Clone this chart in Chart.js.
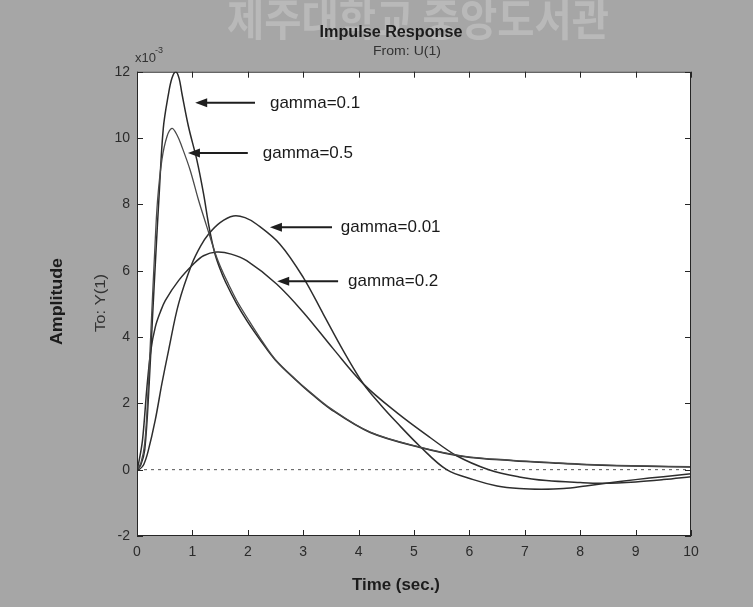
<!DOCTYPE html>
<html><head><meta charset="utf-8">
<script src="https://cdn.jsdelivr.net/npm/chart.js@4/dist/chart.umd.min.js"></script>
<style>html,body{margin:0;padding:0;background:#a6a6a6;overflow:hidden}#wrap{width:753px;height:607px}</style>
</head><body><div id="wrap"><canvas id="c" width="753" height="607"></canvas></div>
<script>
// ---- data (time in sec, amplitude in units of 1e-3) ----
const t01 = [0, 0.07, 0.14, 0.22, 0.28, 0.34, 0.40, 0.475, 0.565, 0.63, 0.70, 0.76, 0.81, 0.93, 1.08, 1.20, 1.30, 1.40, 1.50, 1.60, 1.80, 2.00, 2.25, 2.50, 2.88, 3.07, 3.50, 4.21, 5.11, 5.89, 6.79, 7.51, 8.12, 9.20, 10];
const v01 = [0, 0.15, 0.6, 2.6, 4.6, 6.5, 8.3, 10.3, 11.3, 11.8, 12.0, 11.8, 11.35, 10.34, 9.34, 8.33, 7.33, 6.55, 6.05, 5.65, 5.0, 4.45, 3.85, 3.3, 2.68, 2.40, 1.82, 1.12, 0.67, 0.40, 0.27, 0.20, 0.15, 0.10, 0.08];

const t05 = [0, 0.07, 0.14, 0.20, 0.26, 0.32, 0.37, 0.45, 0.54, 0.63, 0.72, 0.81, 0.96, 1.11, 1.26, 1.35, 1.45, 1.55, 1.65, 1.80, 2.00, 2.25, 2.50, 2.88, 3.07, 3.50, 4.21, 5.11, 5.89, 6.79, 7.51, 8.12, 9.20, 10];
const v05 = [0, 0.2, 0.8, 2.4, 4.5, 6.6, 8.1, 9.35, 10.04, 10.29, 10.1, 9.74, 9.03, 8.13, 7.33, 6.85, 6.35, 5.95, 5.6, 5.1, 4.55, 3.9, 3.32, 2.7, 2.42, 1.84, 1.13, 0.68, 0.41, 0.28, 0.21, 0.16, 0.11, 0.09];

const t001 = [0, 0.05, 0.12, 0.2, 0.33, 0.45, 0.57, 0.75, 0.99, 1.15, 1.29, 1.5, 1.74, 1.95, 2.16, 2.58, 3.0, 3.36, 3.72, 4.09, 4.40, 4.69, 5.11, 5.59, 6.07, 6.5, 6.9, 7.3, 7.7, 8.1, 8.5, 9.0, 9.5, 10];
const v001 = [0, 0.02, 0.15, 0.55, 1.5, 2.6, 3.6, 5.0, 6.2, 6.75, 7.1, 7.45, 7.65, 7.6, 7.4, 6.8, 5.8, 4.7, 3.6, 2.58, 1.95, 1.42, 0.70, 0, -0.30, -0.49, -0.57, -0.59, -0.57, -0.49, -0.40, -0.30, -0.21, -0.12];

const t02 = [0, 0.03, 0.1, 0.18, 0.25, 0.33, 0.42, 0.51, 0.75, 1.02, 1.2, 1.44, 1.7, 1.98, 2.52, 3.0, 3.54, 4.09, 4.69, 5.29, 5.77, 6.35, 6.9, 7.39, 8.0, 8.4, 9.0, 9.5, 10];
const v02 = [0, 0.2, 0.9, 2.5, 3.6, 4.3, 4.75, 5.1, 5.7, 6.2, 6.45, 6.56, 6.5, 6.3, 5.6, 4.75, 3.65, 2.58, 1.72, 0.97, 0.42, 0, -0.22, -0.33, -0.39, -0.41, -0.37, -0.30, -0.21];

const zeroT = [0, 10];
const zeroV = [0, 0];

const xTicks = [0, 1, 2, 3, 4, 5, 6, 7, 8, 9, 10];
const yTicks = [-2, 0, 2, 4, 6, 8, 10, 12];

// annotations (label, arrow head t, arrow tail t, level, text start t)
const annLabels = ['gamma=0.1', 'gamma=0.5', 'gamma=0.01', 'gamma=0.2'];
const annHeadT  = [1.05, 0.92, 2.40, 2.53];
const annTailT  = [2.13, 2.00, 3.52, 3.63];
const annLevel  = [11.06, 9.55, 7.31, 5.68];
const annTextT  = [2.40, 2.27, 3.68, 3.81];

const pts = (t, v) => t.map((x, i) => ({x: x, y: v[i]}));

function fitText(ctx, text, x, y, targetW, align, rot) {
  const w = ctx.measureText(text).width;
  let s = targetW / w; if (s > 1.25) s = 1.25; if (s < 0.75) s = 0.75;
  ctx.save();
  ctx.translate(x, y);
  if (rot) ctx.rotate(rot);
  ctx.scale(s, 1);
  ctx.textAlign = align || 'center';
  ctx.fillText(text, 0, 0);
  ctx.restore();
}

const FONT = '"Liberation Sans", Arial, sans-serif';

const decor = {
  id: 'decor',
  beforeDraw(chart) {
    const ctx = chart.ctx, a = chart.chartArea;
    ctx.save();
    ctx.fillStyle = '#a6a6a6';
    ctx.fillRect(0, 0, chart.width, chart.height);
    // faint library watermark
    ctx.fillStyle = 'rgba(200,200,200,0.55)';
    ctx.textBaseline = 'alphabetic';
    ctx.font = 'bold 44px "Noto Sans CJK KR", sans-serif';
    fitText(ctx, '제주대학교 중앙도서관', 418, 36, 382, 'center');
    ctx.fillStyle = '#ffffff';
    ctx.fillRect(a.left, a.top, a.right - a.left, a.bottom - a.top);
    ctx.restore();
  },
  afterDatasetsDraw(chart) {
    const ctx = chart.ctx, a = chart.chartArea;
    const xs = chart.scales.x, ys = chart.scales.y;
    ctx.save();
    ctx.strokeStyle = '#262626';
    ctx.lineWidth = 1;
    ctx.strokeRect(a.left + 0.5, a.top + 0.5, a.right - a.left - 1, a.bottom - a.top - 1);
    ctx.beginPath();
    const L = 6;
    xTicks.forEach(v => {
      const px = Math.round(xs.getPixelForValue(v)) + 0.5;
      ctx.moveTo(px, a.bottom); ctx.lineTo(px, a.bottom - L);
      ctx.moveTo(px, a.top); ctx.lineTo(px, a.top + L);
    });
    yTicks.forEach(v => {
      const py = Math.round(ys.getPixelForValue(v)) + 0.5;
      ctx.moveTo(a.left, py); ctx.lineTo(a.left + L, py);
      ctx.moveTo(a.right, py); ctx.lineTo(a.right - L, py);
    });
    ctx.stroke();

    // arrows + labels
    annLabels.forEach((lab, i) => {
      const hx = xs.getPixelForValue(annHeadT[i]);
      const tx = xs.getPixelForValue(annTailT[i]);
      const py = ys.getPixelForValue(annLevel[i]);
      ctx.strokeStyle = '#1e1e1e';
      ctx.fillStyle = '#1e1e1e';
      ctx.lineWidth = 2;
      ctx.beginPath();
      ctx.moveTo(hx + 10, py); ctx.lineTo(tx, py);
      ctx.stroke();
      ctx.beginPath();
      ctx.moveTo(hx, py); ctx.lineTo(hx + 12, py - 4.5); ctx.lineTo(hx + 12, py + 4.5);
      ctx.closePath(); ctx.fill();
      ctx.font = '17px ' + FONT;
      ctx.textBaseline = 'middle';
      ctx.fillStyle = '#1a1a1a';
      ctx.textAlign = 'left';
      ctx.fillText(lab, xs.getPixelForValue(annTextT[i]), py);
    });
    ctx.restore();
  },
  afterDraw(chart) {
    const ctx = chart.ctx;
    ctx.save();
    ctx.textBaseline = 'middle';
    ctx.fillStyle = '#1c1c1c';
    ctx.font = 'bold 16px ' + FONT;
    fitText(ctx, 'Impulse Response', 391, 33, 143, 'center');
    ctx.fillStyle = '#333';
    ctx.font = '12px ' + FONT;
    fitText(ctx, 'From: U(1)', 407, 52, 68, 'center');
    ctx.font = '13px ' + FONT;
    ctx.textAlign = 'left';
    ctx.fillText('x10', 135, 58);
    ctx.font = '9px ' + FONT;
    ctx.fillText('-3', 155, 51);
    ctx.fillStyle = '#1c1c1c';
    ctx.font = 'bold 17px ' + FONT;
    fitText(ctx, 'Amplitude', 57.5, 301.5, 87, 'center', -Math.PI / 2);
    ctx.fillStyle = '#333';
    ctx.font = '14px ' + FONT;
    fitText(ctx, 'To: Y(1)', 101.5, 303, 58, 'center', -Math.PI / 2);
    ctx.fillStyle = '#1c1c1c';
    ctx.font = 'bold 17px ' + FONT;
    fitText(ctx, 'Time (sec.)', 396, 585, 88, 'center');
    ctx.restore();
  }
};

const lineDs = (label, t, v, color, w) => ({
  label: label, data: pts(t, v), borderColor: color, borderWidth: w,
  pointRadius: 0, fill: false, tension: 0.35, order: 1
});

new Chart(document.getElementById('c'), {
  type: 'line',
  data: {
    datasets: [
      {label: 'zero', data: pts(zeroT, zeroV), borderColor: '#555', borderWidth: 1, borderDash: [3, 4], pointRadius: 0, order: 10},
      lineDs('gamma=0.5', t05, v05, '#4a4a4a', 1.3),
      lineDs('gamma=0.2', t02, v02, '#2e2e2e', 1.5),
      lineDs('gamma=0.01', t001, v001, '#2e2e2e', 1.5),
      lineDs('gamma=0.1', t01, v01, '#2a2a2a', 1.5)
    ]
  },
  options: {
    responsive: false,
    animation: false,
    devicePixelRatio: 1,
    layout: {padding: {left: 0, right: 62, top: 71.7, bottom: 0}},
    plugins: {legend: {display: false}, title: {display: false}, tooltip: {enabled: false}},
    scales: {
      x: {
        type: 'linear', min: 0, max: 10,
        afterBuildTicks: s => { s.ticks = xTicks.map(v => ({value: v})); },
        grid: {display: false, drawTicks: false},
        border: {display: false},
        ticks: {padding: 8, color: '#2b2b2b', font: {family: FONT, size: 14}, maxRotation: 0, autoSkip: false},
        afterFit: s => { s.height = 71; }
      },
      y: {
        type: 'linear', min: -2, max: 12,
        afterBuildTicks: s => { s.ticks = yTicks.map(v => ({value: v})); },
        grid: {display: false, drawTicks: false},
        border: {display: false},
        ticks: {padding: 7, color: '#2b2b2b', font: {family: FONT, size: 14}, autoSkip: false},
        afterFit: s => { s.width = 137; }
      }
    }
  },
  plugins: [decor]
});
</script></body></html>
